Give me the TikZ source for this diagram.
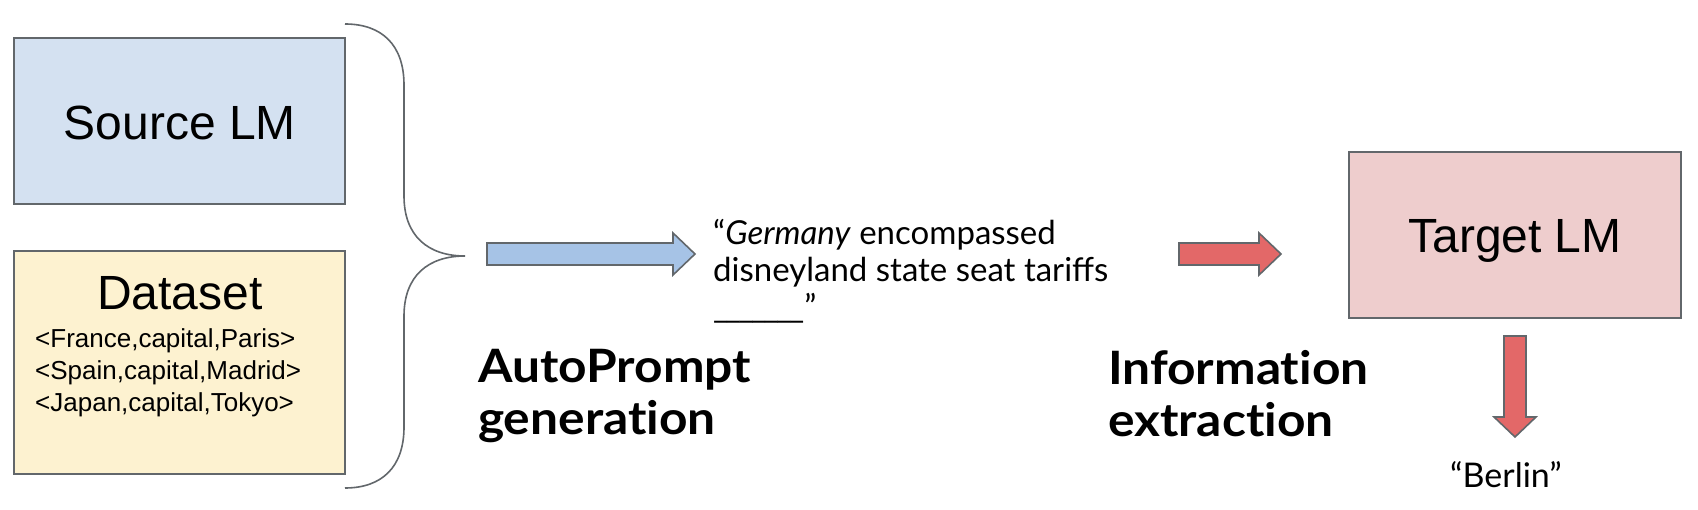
\documentclass[tikz,border=0pt]{standalone}
\usepackage{fontspec}
\newfontfamily\arialf{Liberation Sans}
\newfontfamily\latof{Lato}
\newfontfamily\latobf[FakeStretch=1.08,Ligatures={NoCommon,NoRare}]{Lato Bold}
\definecolor{edgegray}{HTML}{62676B}
\definecolor{srcfill}{HTML}{D4E1F1}
\definecolor{datafill}{HTML}{FDF2D0}
\definecolor{tgtfill}{HTML}{EECDCD}
\definecolor{bluearrow}{HTML}{A6C3E6}
\definecolor{redarrow}{HTML}{E36868}
\newcommand{\blankus}{\_\kern-2.5pt}
\tikzset{
  box/.style={draw=edgegray, line width=1.8pt},
  bigtxt/.style={inner sep=0pt, font=\arialf\fontsize{48}{55}\selectfont},
  smalltxt/.style={inner sep=0pt, font=\arialf\fontsize{26}{32}\selectfont},
  prompttxt/.style={inner sep=0pt, font=\latof\fontsize{33}{37}\selectfont},
  berlintxt/.style={inner sep=0pt, font=\latof\fontsize{34}{37}\selectfont},
  labeltxt/.style={inner sep=0pt, font=\latobf\fontsize{46}{52}\selectfont},
  blockarrow/.style={draw=edgegray, line width=1.6pt, line join=miter},
}
\begin{document}
\begin{tikzpicture}[x=1pt,y=-1pt]
\useasboundingbox (0,0) rectangle (1698,510);
% boxes
\draw[box, fill=srcfill] (14,38) rectangle (345,204);
\draw[box, fill=datafill] (14,251) rectangle (345,474);
\draw[box, fill=tgtfill] (1349,152) rectangle (1681,318);
% box texts
\node[bigtxt, anchor=base] (src) at (180,140) {Source LM};
\node[bigtxt, anchor=base] (data) at (180,310) {Dataset};
\node[smalltxt, anchor=base west] (d1) at (35,348) {<France,capital,Paris>};
\node[smalltxt, anchor=base west] (d2) at (35,380) {<Spain,capital,Madrid>};
\node[smalltxt, anchor=base west] (d3) at (35,412) {<Japan,capital,Tokyo>};
\node[bigtxt, anchor=base] (tgt) at (1515,253) {Target LM};
% brace
\draw[edgegray, line width=1.6pt] (345,24) .. controls (382,24) and (404,45) .. (404,85)
  -- (404,196) .. controls (404,236) and (428,256) .. (465,256)
  .. controls (428,256) and (404,276) .. (404,316)
  -- (404,427) .. controls (404,467) and (382,488) .. (345,488);
% arrows
\draw[blockarrow, fill=bluearrow] (487,243) -- (673,243) -- (673,233) -- (695,254) -- (673,275) -- (673,265) -- (487,265) -- cycle;
\draw[blockarrow, fill=redarrow] (1179,243) -- (1259,243) -- (1259,233) -- (1281,254) -- (1259,275) -- (1259,265) -- (1179,265) -- cycle;
\draw[blockarrow, fill=redarrow] (1504,336) -- (1526,336) -- (1526,417) -- (1536,417) -- (1515,437) -- (1494,417) -- (1504,417) -- cycle;
% prompt
\node[prompttxt, anchor=base west] (p1) at (713,245) {“\textit{Germany} encompassed};
\node[prompttxt, anchor=base west] (p2) at (713,282) {disneyland state seat tariffs};
\node[prompttxt, anchor=base west] (p3) at (713,319) {\blankus\blankus\blankus\blankus\blankus\blankus\_”};
% labels
\node[labeltxt, anchor=base west] (ap1) at (478,383) {AutoPrompt};
\node[labeltxt, anchor=base west] (ap2) at (478,435) {generation};
\node[labeltxt, anchor=base west] (ie1) at (1108,385) {Information};
\node[labeltxt, anchor=base west] (ie2) at (1108,437) {extraction};
\node[berlintxt, anchor=base] (berlin) at (1506,487) {“Berlin”};
\end{tikzpicture}
\end{document}
